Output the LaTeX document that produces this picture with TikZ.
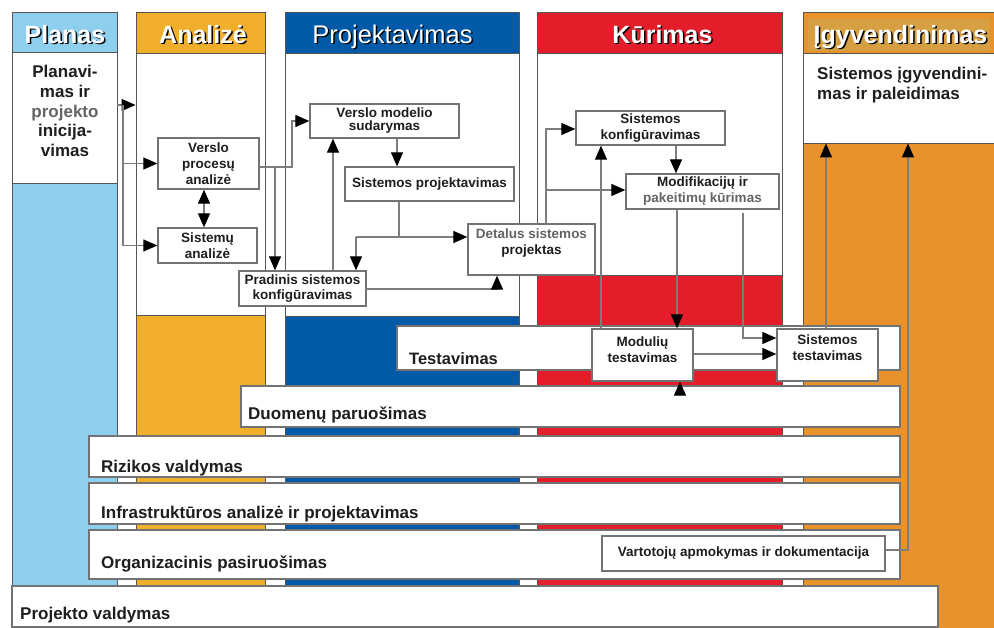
\documentclass[tikz,border=0pt]{standalone}
\usepackage{fontspec}
\setmainfont{Liberation Sans}
\usetikzlibrary{arrows.meta,fit}
\definecolor{cPlan}{RGB}{142,207,238}
\definecolor{cAnal}{RGB}{240,174,42}
\definecolor{cProj}{RGB}{0,90,168}
\definecolor{cKur}{RGB}{227,30,42}
\definecolor{cIgy}{RGB}{232,146,44}
\definecolor{cIgyH}{RGB}{214,160,66}
\definecolor{cLine}{RGB}{125,125,125}
\definecolor{cBord}{RGB}{85,85,85}
\definecolor{cBox}{RGB}{115,115,115}
\definecolor{cTxt}{RGB}{30,30,30}
\definecolor{cGrey}{RGB}{100,100,100}
\begin{document}
\begin{tikzpicture}[x=1pt,y=-1pt,
  colborder/.style={draw=cBord,line width=0.9pt},
  region/.style={fill=white,draw=cBord,line width=0.9pt,inner sep=0pt},
  boxnode/.style={draw=cBox,line width=1.3pt,fill=white,inner sep=0pt,align=center,text=cTxt,font=\bfseries\fontsize{13.5}{16}\selectfont},
  barnode/.style={draw=cBox,line width=1.2pt,fill=white,inner sep=0pt},
  barlabel/.style={anchor=base west,inner sep=0pt,text=cTxt,font=\bfseries\fontsize{17}{20}\selectfont},
  headtxt/.style={anchor=base,inner sep=0pt,text=white,font=\bfseries\fontsize{25}{30}\selectfont},
  headshadow/.style={anchor=base,inner sep=0pt,text=black,font=\bfseries\fontsize{25}{30}\selectfont},
  conn/.style={draw=cLine,line width=1.2pt},
  arr/.style={-{Triangle[length=14pt,width=12pt,color=black]}},
  dblarr/.style={{Triangle[length=14pt,width=12pt,color=black]}-{Triangle[length=14pt,width=12pt,color=black]}},
]
\useasboundingbox (0,0) rectangle (994,628);
\clip (0,0) rectangle (994,628);
\fill[white] (0,0) rectangle (994,628);

% ---- columns ----
\fill[cPlan] (12,12) rectangle (117,586);
\draw[colborder] (12,12) rectangle (117,586);
\node[region, fit={(12,52) (117,183)}] (plbox) {};

\fill[cAnal] (136,12) rectangle (265,586);
\draw[colborder] (136,12) rectangle (265,586);
\node[region, fit={(136,53) (265,315)}] (anbox) {};

\fill[cProj] (285,12) rectangle (519,586);
\draw[colborder] (285,12) rectangle (519,586);
\node[region, fit={(285,53) (519,316)}] (prbox) {};

\fill[cKur] (537,12) rectangle (782,586);
\draw[colborder] (537,12) rectangle (782,586);
\node[region, fit={(537,53) (782,275)}] (kubox) {};

\fill[cIgy] (803,12) rectangle (998,632);
\draw[colborder] (803,12) rectangle (998,632);
\fill[cIgyH] (808,19) rectangle (990,51);
\node[region, fit={(803,53) (998,143)}] (igbox) {};

% ---- headers ----
\node[headshadow] (hPs) at (66.5,45) {Planas};
\node[headtxt] (hP) at (65,43.5) {Planas};
\node[headshadow] (hAs) at (204.5,45) {Analizė};
\node[headtxt] (hA) at (203,43.5) {Analizė};
\node[headshadow,font=\fontsize{25.5}{30}\selectfont] (hPrs) at (394,45) {Projektavimas};
\node[headtxt,font=\fontsize{25.5}{30}\selectfont] (hPr) at (392.5,43.5) {Projektavimas};
\node[headshadow] (hKs) at (664,45) {Kūrimas};
\node[headtxt] (hK) at (662.5,43.5) {Kūrimas};
\node[headshadow] (hIs) at (902,45) {Įgyvendinimas};
\node[headtxt] (hI) at (900.5,43.5) {Įgyvendinimas};

% ---- column texts ----
\node[anchor=north,inner sep=0pt,align=center,text=cTxt,font=\bfseries\fontsize{17}{19.8}\selectfont] (pltxt) at (65,64.9)
  {Planavi-\\mas ir\\\textcolor{cGrey}{projekto}\\inicija-\\vimas};
\node[anchor=north west,inner sep=0pt,align=left,text=cTxt,font=\bfseries\fontsize{17}{20}\selectfont] (igtxt) at (817,66.6)
  {Sistemos įgyvendini-\\mas ir paleidimas};

% ---- bars ----
\node[barnode, fit={(397,326) (900,370)}] (tbar) {};
\node[barlabel,font=\bfseries\fontsize{16.5}{20}\selectfont] (tlab) at (409,365) {Testavimas};
\node[barnode, fit={(241,386) (900,427)}] (dp) {};
\node[barlabel] (dplab) at (248,420) {Duomenų paruošimas};
\node[barnode, fit={(89,436) (900,477)}] (rv) {};
\node[barlabel] (rvlab) at (101,472) {Rizikos valdymas};
\node[barnode, fit={(89,483) (900,524)}] (ia) {};
\node[barlabel] (ialab) at (101,518) {Infrastruktūros analizė ir projektavimas};
\node[barnode, fit={(89,530) (900,579)}] (op) {};
\node[barlabel] (oplab) at (101,568) {Organizacinis pasiruošimas};
\node[barnode, fit={(12,586) (938,627)}] (pv) {};
\node[barlabel] (pvlab) at (20,619) {Projekto valdymas};

% ---- boxes ----
\node[boxnode, minimum width=101pt, minimum height=51pt] (vpa) at (208.5,163.5) {Verslo\\procesų\\analizė};
\node[boxnode, minimum width=99pt, minimum height=35pt] (sa) at (207.5,245.5) {Sistemų\\analizė};
\node[boxnode, minimum width=127pt, minimum height=35pt, font=\bfseries\fontsize{13.5}{15}\selectfont] (pk) at (302.5,288.5) {Pradinis sistemos\\konfigūravimas};
\node[boxnode, minimum width=149pt, minimum height=34pt, font=\bfseries\fontsize{13.5}{13}\selectfont] (vm) at (384.5,121) {Verslo modelio\\sudarymas};
\node[boxnode, minimum width=169pt, minimum height=34pt] (sp) at (429.5,184) {Sistemos projektavimas};
\node[boxnode, minimum width=127pt, minimum height=51pt] (ds) at (531.5,249.5) {\textcolor{cGrey}{Detalus sistemos}\\projektas\\\mbox{}};
\node[boxnode, minimum width=149pt, minimum height=34pt] (sk) at (650.5,128) {Sistemos\\konfigūravimas};
\node[boxnode, minimum width=153pt, minimum height=35pt] (mk) at (702.5,191.5) {Modifikacijų ir\\\textcolor{cGrey}{pakeitimų kūrimas}};
\node[boxnode, minimum width=101pt, minimum height=52pt] (mt) at (642.5,355) {Modulių\\testavimas\\[-6pt]\mbox{}};
\node[boxnode, minimum width=101pt, minimum height=52pt] (st) at (827.5,355) {Sistemos\\testavimas\\[-1pt]\mbox{}};
\node[boxnode, minimum width=283pt, minimum height=35pt] (va) at (743.5,553.5) {Vartotojų apmokymas ir dokumentacija};

% ---- helper coordinates ----
\coordinate (j1) at (123,105);
\coordinate (dbl) at (204,0);
\coordinate (b1) at (292,167);
\coordinate (b2) at (275,167);
\coordinate (x333) at (333,0);
\coordinate (x397) at (397,0);
\coordinate (b3) at (399,237);
\coordinate (b4) at (356,237);
\coordinate (b5) at (497,289);
\coordinate (b6) at (546,129);
\coordinate (b7) at (546,190);
\coordinate (x601) at (601,0);
\coordinate (x676) at (676,0);
\coordinate (x677) at (677,0);
\coordinate (b8a) at (743,213);
\coordinate (b8) at (743,338);
\coordinate (y354) at (0,354);
\coordinate (x680) at (680,0);
\coordinate (x826) at (826,0);
\coordinate (b10) at (908,550);

% ---- connectors ----
\draw[conn,arr] (plbox.east |- j1) -- (anbox.west |- j1);
\draw[conn,arr] (j1) |- (sa.west);
\draw[conn,arr] (j1 |- vpa.west) -- (vpa.west);
\draw[conn,dblarr] (vpa.south -| dbl) -- (sa.north -| dbl);
\draw[conn,arr] (vpa.east |- b1) -- (b1) |- (vm.west);
\draw[conn,arr] (b2) -- (b2 |- pk.north);
\draw[conn,arr] (pk.north -| x333) -- (vm.south -| x333);
\draw[conn,arr] (vm.south -| x397) -- (sp.north -| x397);
\draw[conn] (sp.south -| b3) -- (b3);
\draw[conn,arr] (b4) -- (ds.west |- b4);
\draw[conn,arr] (b4) -- (b4 |- pk.north);
\draw[conn,arr] (pk.east |- b5) -- (b5) -- (b5 |- ds.south);
\draw[conn,arr] (ds.north -| b6) -- (b6) -- (sk.west |- b6);
\draw[conn,arr] (b7) -- (mk.west |- b7);
\draw[conn,arr] (mt.north -| x601) -- (sk.south -| x601);
\draw[conn,arr] (sk.south -| x676) -- (mk.north -| x676);
\draw[conn,arr] (mk.south -| x677) -- (mt.north -| x677);
\draw[conn,arr] (b8a) -- (b8) -- (st.west |- b8);
\draw[conn,arr] (mt.east |- y354) -- (st.west |- y354);
\draw[conn,arr] (dp.north -| x680) -- (mt.south -| x680);
\draw[conn,arr] (st.north -| x826) -- (igbox.south -| x826);
\draw[conn,arr] (va.east |- b10) -- (b10) -- (b10 |- igbox.south);
\end{tikzpicture}
\end{document}
